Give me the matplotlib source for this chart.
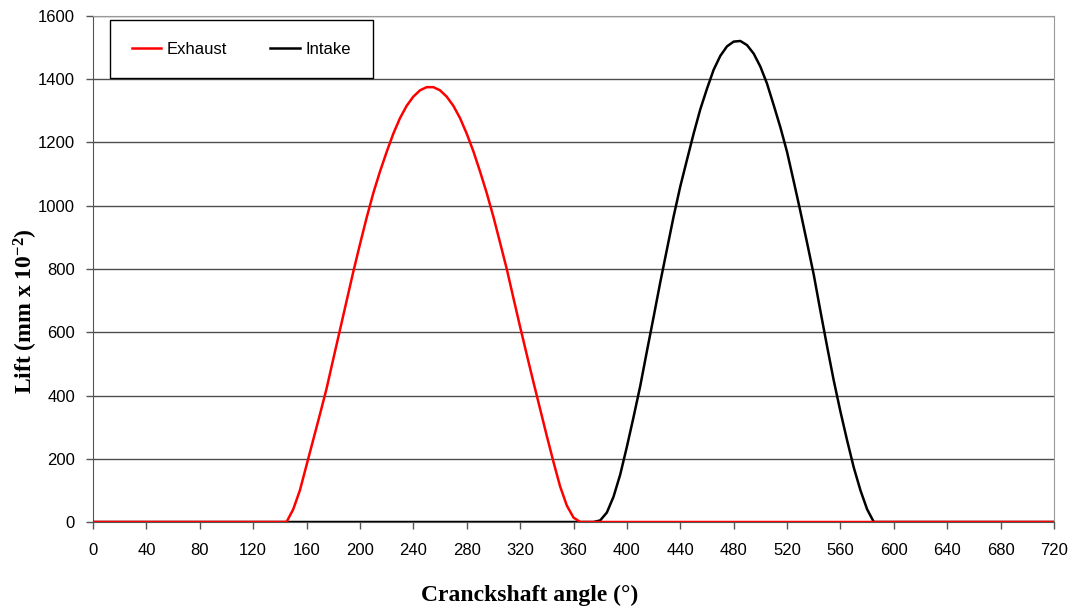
import matplotlib
matplotlib.use("Agg")
import matplotlib.pyplot as plt

plt.rcParams["mathtext.fontset"] = "custom"
plt.rcParams["mathtext.rm"] = "Liberation Serif:bold"
plt.rcParams["mathtext.it"] = "Liberation Serif:bold"
plt.rcParams["mathtext.bf"] = "Liberation Serif:bold"

# ---- data ----
exhaust_angle = [0, 145, 150, 155, 160, 165, 170, 175, 180, 185, 190, 195, 200, 205,
                 210, 215, 220, 225, 230, 235, 240, 245, 250, 255, 260, 265, 270,
                 275, 280, 285, 290, 295, 300, 305, 310, 315, 320, 325, 330, 335,
                 340, 345, 350, 355, 360, 365, 720]
exhaust_lift = [0, 0, 40, 100, 180, 260, 340, 422, 515, 607, 699, 791, 878, 962,
                1040, 1108, 1170, 1228, 1277, 1316, 1345, 1365, 1375, 1375, 1365,
                1345, 1316, 1277, 1228, 1172, 1108, 1040, 965, 883, 800, 708, 617,
                529, 442, 357, 272, 190, 112, 52, 14, 0, 0]

intake_angle = [0, 375, 380, 385, 390, 395, 400, 405, 410, 415, 420, 425, 430, 435,
                440, 445, 450, 455, 460, 465, 470, 475, 480, 485, 490, 495, 500,
                505, 510, 515, 520, 525, 530, 535, 540, 545, 550, 555, 560, 565,
                570, 575, 580, 585, 720]
intake_lift = [0, 0, 5, 30, 80, 150, 238, 332, 430, 540, 648, 758, 862, 966, 1061,
               1145, 1228, 1305, 1370, 1430, 1474, 1504, 1519, 1521, 1508, 1481,
               1440, 1386, 1318, 1248, 1170, 1077, 982, 883, 782, 667, 555, 447,
               349, 258, 172, 100, 40, 0, 0]

x_ticks = list(range(0, 721, 40))
y_ticks = list(range(0, 1601, 200))

# ---- figure ----
W, H = 1075, 613
fig = plt.figure(figsize=(W / 100, H / 100), dpi=100)
ax = fig.add_axes([93 / W, 91 / H, 961 / W, 506 / H])

ax.plot(intake_angle, intake_lift, color="black", lw=1.8, label="Intake",
        zorder=3, solid_joinstyle="round")
ax.plot(exhaust_angle, exhaust_lift, color="#ff0000", lw=1.8, label="Exhaust",
        zorder=4, solid_joinstyle="round")

ax.set_xlim(0, 720)
ax.set_ylim(0, 1600)
ax.set_xticks(x_ticks)
ax.set_yticks(y_ticks)
ax.yaxis.grid(True, color="#4d4d4d", lw=1.0)
ax.set_axisbelow(True)

for lab in ax.get_xticklabels() + ax.get_yticklabels():
    lab.set_fontfamily("Liberation Sans")
    lab.set_fontsize(12)
ax.tick_params(axis="x", direction="out", length=5, width=1, color="#555555", pad=10)
ax.tick_params(axis="y", direction="out", length=5, width=1, color="#555555", pad=8)

ax.spines["left"].set_color("#555555")
ax.spines["bottom"].set_color("#555555")
ax.spines["top"].set_color("#999999")
ax.spines["right"].set_color("#999999")

fig.text(530 / W, 1 - 595 / H, "Cranckshaft angle (°)", fontfamily="Liberation Serif",
         fontweight="bold", fontsize=17, ha="center", va="center")
fig.text(26 / W, 1 - 311 / H, "Lift (mm x 10$^{-2}$)", fontfamily="Liberation Serif",
         fontweight="bold", fontsize=17, ha="center", va="center", rotation=90)

handles, labels = ax.get_legend_handles_labels()
order = [1, 0]
leg = ax.legend([handles[i] for i in order], [labels[i] for i in order],
                loc="upper left", bbox_to_anchor=(17 / 961, 1 - 4 / 506), ncol=2,
                frameon=True, fancybox=False, edgecolor="black", framealpha=1,
                prop={"family": "Liberation Sans", "size": 12},
                handlelength=1.75, columnspacing=2.6, borderpad=1.3,
                handletextpad=0.35, borderaxespad=0)
leg.get_frame().set_linewidth(1.0)

fig.savefig("out.png", dpi=100)
